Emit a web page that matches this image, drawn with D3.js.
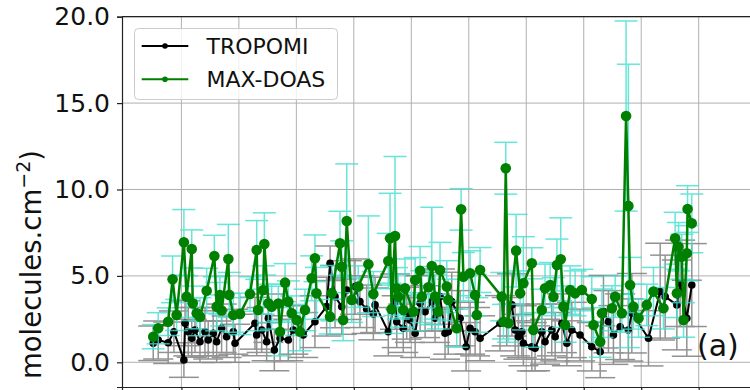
<!DOCTYPE html>
<html>
<head>
<meta charset="utf-8">
<script src="https://cdn.jsdelivr.net/npm/d3@7"></script>
<style>
  body { margin: 0; background: #fff; }
  svg { display: block; font-family: "DejaVu Sans", sans-serif; }
</style>
</head>
<body>
<div id="chart"></div>
<script>
// Data (days since start of record, VCD in 1e15 molecules.cm-2)

let tropomiDays = [15.3, 17.9, 23.1, 26.1, 31.3, 31.9, 33.6, 35.4, 37.1, 39.7,
  42.3, 44.0, 46.6, 48.4, 51.0, 53.6, 57.1, 58.0, 68.4, 69.3,
  71.9, 74.5, 75.4, 78.5, 81.5, 85.8, 88.4, 93.6, 99.7, 105.8,
  107.6, 110.2, 113.7, 116.3, 120.6, 123.2, 126.7, 130.2, 131.1, 138.0,
  141.5, 142.4, 145.8, 147.6, 149.3, 152.0, 154.6, 157.2, 160.7, 162.4,
  165.0, 167.6, 169.3, 171.1, 175.5, 178.6, 180.7, 183.3, 185.9, 196.3,
  199.8, 202.5, 204.2, 205.9, 207.7, 208.5, 212.9, 214.6, 218.1, 219.8,
  223.3, 225.1, 228.6, 231.2, 233.8, 238.1, 244.2, 248.6, 250.3, 252.9,
  255.5, 259.0, 263.3, 265.1, 273.8, 279.9, 282.5, 288.6, 290.3, 293.8,
  296.4];

let tropomiValues = [1.10, 1.29, 1.13, 1.77, 0.13, 2.26, 1.77, 1.39, 1.87, 1.19,
  1.77, 1.29, 1.68, 1.19, 1.97, 1.48, 1.77, 1.10, 2.26, 1.58,
  1.87, 1.19, 2.55, 0.71, 1.39, 1.29, 1.87, 1.58, 2.35, 3.22,
  5.73, 3.80, 3.22, 4.18, 4.38, 3.51, 3.07, 2.80, 3.32, 1.77,
  3.51, 2.35, 1.97, 2.84, 2.45, 1.68, 3.41, 2.93, 3.51, 2.55,
  3.80, 1.68, 1.77, 3.51, 2.55, 0.90, 1.97, 1.77, 1.39, 2.26,
  2.35, 3.32, 1.87, 1.48, 1.77, 1.10, 0.90, 0.81, 1.77, 1.19,
  1.87, 1.48, 2.26, 1.10, 1.87, 1.58, 0.90, 0.61, 2.93, 2.35,
  1.58, 2.06, 1.87, 2.84, 1.39, 4.09, 3.80, 3.32, 4.57, 2.55,
  4.47];

let tropomiErrors = [1.0, 1.1, 1.2, 1.2, 1.0, 1.3, 1.4, 1.1, 1.3, 1.2,
  1.4, 1.1, 1.3, 1.2, 1.4, 1.2, 1.3, 1.1, 1.5, 1.2,
  1.3, 1.1, 1.4, 1.2, 1.3, 1.2, 1.4, 1.3, 1.5, 1.7,
  1.0, 1.8, 1.6, 1.7, 1.6, 1.5, 1.4, 1.5, 1.6, 1.4,
  1.6, 1.5, 1.4, 1.5, 1.3, 1.4, 1.6, 1.5, 1.7, 1.4,
  1.6, 1.5, 1.3, 1.7, 1.6, 1.4, 1.5, 1.4, 1.3, 1.6,
  1.4, 1.8, 1.5, 1.3, 1.5, 1.3, 1.4, 1.3, 1.6, 1.3,
  1.5, 1.4, 1.7, 1.3, 1.6, 1.5, 1.4, 1.5, 2.1, 1.8,
  1.7, 1.9, 1.8, 2.3, 1.6, 2.8, 2.4, 2.6, 2.5, 2.2,
  2.4];

let maxdoasDays = [15.3, 17.9, 23.1, 25.4, 27.5, 31.3, 32.7, 35.4, 35.9, 38.0,
  39.7, 43.2, 47.2, 48.4, 50.1, 51.0, 54.5, 55.0, 57.1, 60.6,
  65.8, 69.3, 70.0, 72.7, 73.3, 75.4, 77.1, 80.6, 81.5, 84.1,
  85.8, 87.6, 90.2, 91.9, 94.5, 98.0, 99.7, 100.5, 107.6, 108.5,
  112.8, 113.7, 114.4, 116.3, 118.9, 122.3, 127.6, 130.2, 138.0, 138.9,
  139.7, 141.5, 142.3, 143.2, 145.8, 146.7, 151.1, 152.0, 154.6, 155.5,
  158.9, 160.7, 162.4, 164.1, 165.0, 168.5, 169.3, 173.7, 176.0, 177.2,
  180.7, 183.3, 184.2, 185.9, 197.2, 198.1, 199.3, 200.7, 204.7, 206.8,
  208.5, 212.9, 213.7, 218.1, 219.8, 222.5, 224.2, 226.0, 228.0, 229.4,
  230.3, 232.9, 235.5, 239.0, 244.2, 245.1, 248.6, 249.5, 254.7, 256.4,
  259.9, 262.1, 263.3, 264.2, 265.9, 268.6, 272.9, 276.4, 281.6, 287.7,
  288.6, 289.5, 291.2, 292.1, 293.8, 294.2, 296.4];

let maxdoasValues = [1.48, 1.97, 2.35, 4.80, 2.74, 6.94, 3.80, 6.56, 3.41, 2.84,
  2.64, 4.14, 6.15, 3.22, 3.89, 3.00, 5.98, 3.90, 2.74, 2.80,
  3.95, 6.50, 3.03, 4.18, 6.85, 3.41, 3.22, 3.40, 1.77, 4.61,
  3.51, 2.84, 2.45, 1.77, 3.03, 4.86, 6.02, 3.99, 2.64, 4.00,
  6.89, 5.53, 2.45, 8.18, 3.61, 4.38, 5.67, 3.95, 5.86, 7.18,
  3.07, 7.31, 4.28, 3.80, 3.03, 4.28, 2.93, 4.76, 5.30, 3.80,
  4.34, 5.57, 3.80, 2.93, 5.34, 4.38, 3.61, 1.97, 8.85, 4.95,
  5.15, 3.89, 2.74, 5.34, 3.80, 2.35, 11.23, 2.26, 6.46, 3.99,
  4.57, 5.73, 1.87, 3.03, 4.28, 4.47, 3.80, 5.63, 5.96, 3.22,
  2.16, 4.18, 3.99, 4.18, 3.66, 2.16, 1.19, 2.84, 3.13, 3.80,
  2.84, 14.25, 9.05, 4.47, 3.22, 2.55, 3.32, 4.09, 3.13, 7.18,
  3.99, 6.69, 6.11, 2.45, 6.31, 8.87, 8.04];

let maxdoasErrors = [0.7, 0.9, 0.8, 1.35, 0.9, 1.9, 1.2, 1.1, 1.0, 0.9,
  1.1, 1.3, 1.2, 1.4, 1.1, 0.9, 2.0, 1.3, 1.0, 1.2,
  1.0, 1.7, 1.2, 1.4, 1.8, 1.1, 1.3, 1.0, 1.4, 1.1,
  1.2, 1.0, 0.9, 1.1, 1.2, 1.3, 1.35, 1.5, 1.0, 1.6,
  1.85, 1.5, 1.2, 3.3, 1.3, 1.2, 2.8, 1.3, 1.6, 2.6,
  1.4, 4.6, 1.2, 1.3, 1.0, 1.7, 1.1, 1.3, 1.4, 1.5,
  1.2, 3.4, 1.3, 1.0, 1.6, 1.5, 1.2, 1.1, 1.2, 1.4,
  1.3, 1.2, 1.0, 1.3, 1.4, 1.0, 1.5, 1.1, 2.1, 1.3,
  2.7, 0.9, 1.0, 1.2, 1.4, 1.3, 1.1, 1.5, 2.4, 1.2,
  1.0, 1.4, 1.3, 1.2, 1.3, 1.0, 0.9, 1.4, 1.3, 1.2,
  1.1, 5.5, 8.2, 1.6, 1.3, 1.1, 1.2, 1.4, 1.2, 1.5,
  1.4, 1.4, 1.3, 1.0, 1.6, 1.35, 1.7];

let xTicks = [30, 60, 90, 120, 150, 180, 210, 240, 270, 300];
let yTicks = [0, 5, 10, 15, 20];
let seriesNames = ['TROPOMI', 'MAX-DOAS'];

// Layout

let width = 750;
let height = 390;
let plotLeft = 122;
let plotTop = 16.7;
let plotRight = 760;
let plotBottom = 387;

let x = d3.scaleLinear().domain([-1, 332]).range([plotLeft, plotRight]);
let y = d3.scaleLinear().domain([-1.43, 20]).range([plotBottom, plotTop]);

let svg = d3.select('#chart').append('svg').attr('width', width).attr('height', height);

svg.append('defs').append('clipPath').attr('id', 'plot')
  .append('rect').attr('x', plotLeft).attr('y', plotTop)
  .attr('width', plotRight - plotLeft).attr('height', plotBottom - plotTop);

// grid
let grid = svg.append('g').attr('stroke', '#b0b0b0').attr('stroke-width', 1);
grid.selectAll('line.vx').data(xTicks).enter().append('line')
  .attr('x1', d => x(d)).attr('x2', d => x(d)).attr('y1', plotTop).attr('y2', plotBottom);
grid.selectAll('line.hy').data(yTicks).enter().append('line')
  .attr('x1', plotLeft).attr('x2', plotRight).attr('y1', d => y(d)).attr('y2', d => y(d));

let plot = svg.append('g').attr('clip-path', 'url(#plot)');

function drawSeries(days, values, errors, opts) {
  let pts = days.map((d, i) => ({ d: d, v: values[i], e: errors[i] }));

  let eb = plot.append('g').attr('stroke', opts.errColor).attr('stroke-width', 1.5).attr('opacity', opts.errOpacity);
  pts.forEach(p => {
    let cx = x(p.d);
    eb.append('line').attr('x1', cx).attr('x2', cx).attr('y1', y(p.v - p.e)).attr('y2', y(p.v + p.e));
    eb.append('line').attr('x1', cx - opts.cap).attr('x2', cx + opts.cap).attr('y1', y(p.v - p.e)).attr('y2', y(p.v - p.e));
    eb.append('line').attr('x1', cx - opts.cap).attr('x2', cx + opts.cap).attr('y1', y(p.v + p.e)).attr('y2', y(p.v + p.e));
  });

  let line = d3.line().x(p => x(p.d)).y(p => y(p.v));
  plot.append('path').datum(pts).attr('d', line)
    .attr('fill', 'none').attr('stroke', opts.color).attr('stroke-width', opts.lw).attr('stroke-linejoin', 'round');

  plot.append('g').selectAll('circle').data(pts).enter().append('circle')
    .attr('cx', p => x(p.d)).attr('cy', p => y(p.v)).attr('r', opts.r)
    .attr('fill', opts.color);
}

drawSeries(tropomiDays, tropomiValues, tropomiErrors,
  { color: 'black', errColor: '#808080', errOpacity: 0.85, cap: 15, lw: 2, r: 3.8 });
drawSeries(maxdoasDays, maxdoasValues, maxdoasErrors,
  { color: 'green', errColor: 'turquoise', errOpacity: 0.8, cap: 11.5, lw: 2.5, r: 5.3 });

// top spine
svg.append('line').attr('x1', plotLeft).attr('x2', width).attr('y1', plotTop).attr('y2', plotTop)
  .attr('stroke', '#222').attr('stroke-width', 1.2);

// axes
let yAxis = svg.append('g').attr('transform', 'translate(' + plotLeft + ',0)')
  .call(d3.axisLeft(y).tickValues(yTicks).tickFormat(d3.format('.1f')).tickSize(5).tickPadding(7));
yAxis.select('.domain').attr('stroke', '#222').attr('stroke-width', 1.2);
yAxis.selectAll('.tick line').attr('stroke', '#222').attr('stroke-width', 1.2);
yAxis.selectAll('text').attr('font-size', 25).attr('fill', '#111').attr('font-family', '"DejaVu Sans", sans-serif');

let xAxis = svg.append('g').attr('transform', 'translate(0,' + plotBottom + ')')
  .call(d3.axisBottom(x).tickValues(xTicks).tickFormat('').tickSize(5));
xAxis.select('.domain').attr('stroke', '#222').attr('stroke-width', 1.2);
xAxis.selectAll('.tick line').attr('stroke', '#222').attr('stroke-width', 1.2);

// y label (start of it is cut off by the frame)
let yl = svg.append('text')
  .attr('transform', 'translate(41,150) rotate(-90)')
  .attr('text-anchor', 'end').attr('font-size', 27.5).attr('fill', '#111');
yl.append('tspan').text('molecules.cm');
yl.append('tspan').text('\u22122').attr('font-size', 19).attr('dy', -11);
yl.append('tspan').text(')').attr('dy', 11);

// panel tag
svg.append('text').attr('x', 697).attr('y', 356).attr('font-size', 30).attr('fill', '#111').text('(a)');

// legend
let lg = svg.append('g');
lg.append('rect').attr('x', 134.5).attr('y', 28.5).attr('width', 203).attr('height', 71).attr('rx', 4)
  .attr('fill', 'white').attr('fill-opacity', 0.8).attr('stroke', '#cccccc');
let legendColors = ['black', 'green'];
seriesNames.forEach((name, i) => {
  let ly = 46 + i * 33.3;
  lg.append('line').attr('x1', 141.7).attr('x2', 188.3).attr('y1', ly).attr('y2', ly)
    .attr('stroke', legendColors[i]).attr('stroke-width', 2);
  lg.append('circle').attr('cx', 165).attr('cy', ly).attr('r', 2.8).attr('fill', legendColors[i]);
  lg.append('text').attr('x', 206.5).attr('y', ly + 8).attr('font-size', 22).attr('fill', '#111').text(name);
});
</script>
</body>
</html>
